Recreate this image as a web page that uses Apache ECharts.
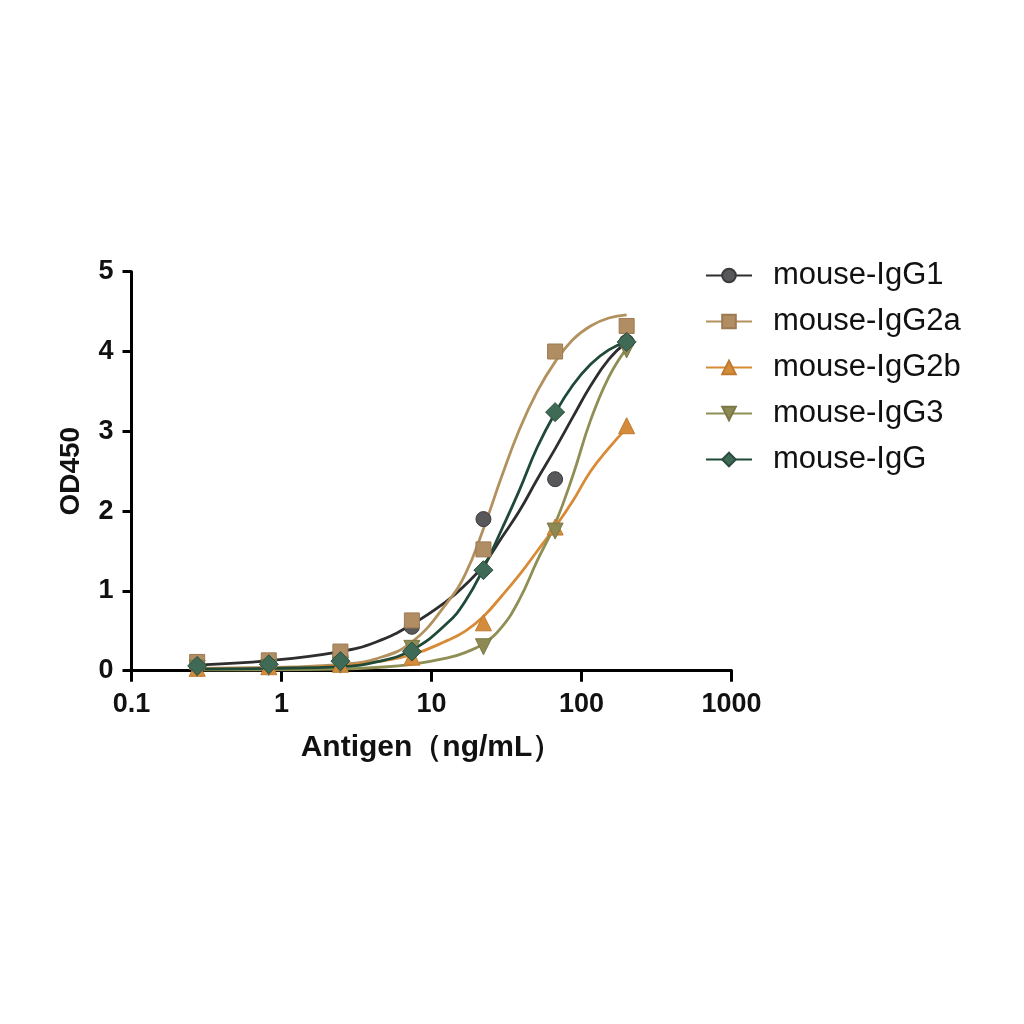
<!DOCTYPE html>
<html>
<head>
<meta charset="utf-8">
<script src="https://cdn.jsdelivr.net/npm/echarts@6/dist/echarts.min.js"></script>
<style>
html,body{margin:0;padding:0;background:#fff;}
#chart{width:1024px;height:1024px;}
</style>
</head>
<body>
<div id="chart"></div>
<script>
// Data
var seriesNames = ['mouse-IgG1', 'mouse-IgG2a', 'mouse-IgG2b', 'mouse-IgG3', 'mouse-IgG'];
var concentrations = [0.274, 0.823, 2.47, 7.4, 22.2, 66.7, 200];
var igg1Points  = [0.06, 0.10, 0.18, 0.55, 1.90, 2.40, 4.12];
var igg2aPoints = [0.11, 0.13, 0.24, 0.63, 1.52, 4.00, 4.32];
var igg2bPoints = [0.03, 0.05, 0.08, 0.17, 0.60, 1.80, 3.07];
var igg3Points  = [0.03, 0.04, 0.07, 0.28, 0.30, 1.75, 4.02];
var iggPoints   = [0.06, 0.08, 0.12, 0.24, 1.26, 3.24, 4.12];

// Fitted curves at these concentrations
var curveConc  = [0.274, 0.823, 2.47, 4.28, 7.4, 12.8, 16.9, 22.2, 29.2, 38.5, 50.7, 66.7, 87.7, 115, 152, 200];
var igg1Curve  = [0.07, 0.125, 0.24, 0.36, 0.58, 0.88, 1.08, 1.32, 1.66, 2.00, 2.40, 2.78, 3.18, 3.57, 3.90, 4.12];
var igg2aCurve = [0.03, 0.04, 0.08, 0.15, 0.36, 0.86, 1.22, 1.78, 2.42, 3.02, 3.50, 3.87, 4.15, 4.32, 4.42, 4.46];
var igg2bCurve = [0.02, 0.03, 0.06, 0.11, 0.20, 0.38, 0.50, 0.68, 0.93, 1.20, 1.50, 1.80, 2.13, 2.50, 2.79, 3.04];
var igg3Curve  = [0.01, 0.01, 0.02, 0.04, 0.08, 0.16, 0.23, 0.34, 0.54, 0.89, 1.38, 1.84, 2.45, 3.14, 3.68, 4.04];
var iggCurve   = [0.02, 0.03, 0.05, 0.11, 0.26, 0.60, 0.88, 1.28, 1.76, 2.26, 2.80, 3.23, 3.58, 3.84, 4.02, 4.12];

var yTicks = [0, 1, 2, 3, 4, 5];
var xTicks = [0.1, 1, 10, 100, 1000];

var pointSets = [igg1Points, igg2aPoints, igg2bPoints, igg3Points, iggPoints];
var curveSets = [igg1Curve, igg2aCurve, igg2bCurve, igg3Curve, iggCurve];

var styles = [
  {line: '#2e2e30', fill: '#58585a', border: '#3a3a3c', symbol: 'circle', size: 15, rot: 0},
  {line: '#b2915f', fill: '#b08d63', border: '#9c7a52', symbol: 'rect', size: 15, rot: 0},
  {line: '#d88a36', fill: '#d48b3b', border: '#c07a30', symbol: 'triangle', size: 16, rot: 0},
  {line: '#8e8e55', fill: '#8c8a52', border: '#7a7846', symbol: 'triangle', size: 16, rot: 180},
  {line: '#1f4a38', fill: '#3f6a56', border: '#2d4e3e', symbol: 'diamond', size: 19, rot: 0}
];

function pairs(xs, ys) {
  return xs.map(function (x, i) { return [x, ys[i]]; });
}

var series = [];
seriesNames.forEach(function (name, i) {
  var s = styles[i];
  series.push({
    name: name,
    type: 'line',
    smooth: 0.45,
    showSymbol: false,
    symbol: s.symbol,
    symbolSize: s.size,
    symbolRotate: s.rot,
    lineStyle: {color: s.line, width: 2.8},
    itemStyle: {color: s.fill, borderColor: s.border, borderWidth: 1},
    data: pairs(curveConc, curveSets[i]),
    z: 2
  });
});
seriesNames.forEach(function (name, i) {
  var s = styles[i];
  series.push({
    name: name,
    type: 'scatter',
    symbol: s.symbol,
    symbolSize: s.size,
    symbolRotate: s.rot,
    itemStyle: {color: s.fill, borderColor: s.border, borderWidth: 1, opacity: 1},
    data: pairs(concentrations, pointSets[i]),
    z: 3 + i
  });
});

var font = "'Liberation Sans', Arial, sans-serif";
var chart = echarts.init(document.getElementById('chart'), null, {renderer: 'canvas'});
chart.setOption({
  backgroundColor: '#ffffff',
  animation: false,
  grid: {left: 131.5, right: 292.5, top: 271.7, bottom: 353.3, containLabel: false},
  legend: {
    orient: 'vertical',
    left: 700,
    top: 255,
    itemWidth: 46,
    itemHeight: 17,
    itemGap: 15,
    data: seriesNames,
    textStyle: {fontFamily: font, fontSize: 31, color: '#111', padding: [0, 0, 0, 16]}
  },
  xAxis: {
    type: 'log',
    logBase: 10,
    min: xTicks[0],
    max: xTicks[xTicks.length - 1],
    name: 'Antigen（ng/mL）',
    nameLocation: 'middle',
    nameGap: 62,
    nameTextStyle: {fontFamily: font, fontSize: 30, fontWeight: 'bold', color: '#111'},
    axisLine: {show: true, lineStyle: {color: '#000', width: 3}},
    axisTick: {show: true, length: 11, lineStyle: {color: '#000', width: 3}},
    minorTick: {show: false},
    splitLine: {show: false},
    axisLabel: {
      fontFamily: font, fontSize: 27, fontWeight: 'bold', color: '#111', margin: 20,
      formatter: function (v) { return String(v); }
    }
  },
  yAxis: {
    type: 'value',
    min: yTicks[0],
    max: yTicks[yTicks.length - 1],
    interval: 1,
    name: 'OD450',
    nameLocation: 'middle',
    nameGap: 46,
    nameTextStyle: {fontFamily: font, fontSize: 28, fontWeight: 'bold', color: '#111'},
    axisLine: {show: true, lineStyle: {color: '#000', width: 3}},
    axisTick: {show: true, length: 9, lineStyle: {color: '#000', width: 3}},
    splitLine: {show: false},
    axisLabel: {fontFamily: font, fontSize: 27, fontWeight: 'bold', color: '#111', margin: 18}
  },
  series: series
});
</script>
</body>
</html>
